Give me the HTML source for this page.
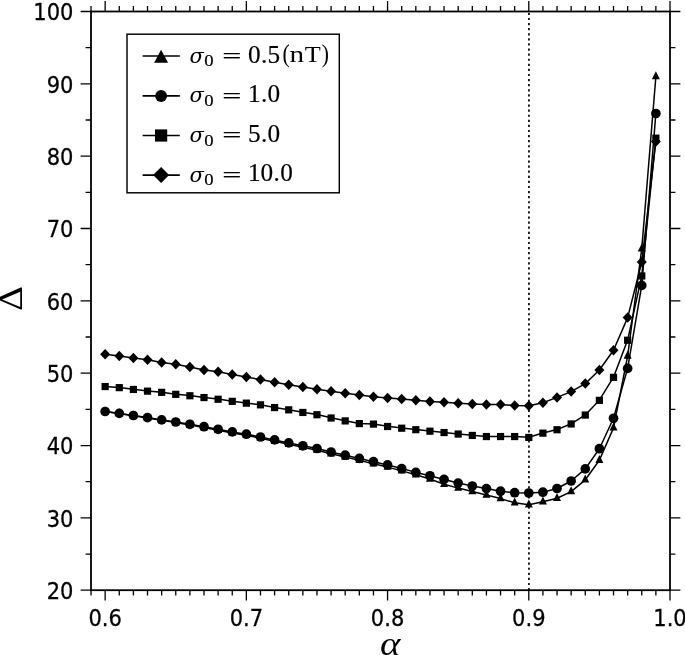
<!DOCTYPE html>
<html lang="en">
<head>
<meta charset="utf-8">
<title>Delta versus alpha</title>
<style>
html,body{margin:0;padding:0;background:#fff;}
body{width:685px;height:655px;overflow:hidden;}
svg{display:block;}
.tick{font-family:"DejaVu Sans","Liberation Sans",sans-serif;font-size:23.5px;fill:#000;stroke:#000;stroke-width:0.3px;}
.leg{font-family:"Liberation Serif","DejaVu Serif",serif;font-size:24px;fill:#000;stroke:#000;stroke-width:0.18px;}
.it{font-style:italic;}
.sig{font-family:"DejaVu Serif","Liberation Serif",serif;font-style:italic;font-size:21px;fill:#000;}
</style>
</head>
<body>
<svg width="685" height="655" viewBox="0 0 685 655">
<rect x="0" y="0" width="685" height="655" fill="#fff"/>
<line x1="528.94" y1="590.2" x2="528.94" y2="11.5" stroke="#111" stroke-width="1.8" stroke-dasharray="2.2 2.89"/>
<g>
<polyline fill="none" stroke="#000" stroke-width="1.5" stroke-linejoin="round" points="105.15,411.5 119.27,413.51 133.39,415.72 147.51,417.93 161.64,420.34 175.76,422.55 189.88,424.96 204,427.47 218.12,430.18 232.24,432.89 246.36,435.3 260.48,438.21 274.61,441.22 288.73,444.33 302.85,447.34 316.97,450.15 331.09,453.76 345.21,457.07 359.33,460.38 373.45,463.79 387.58,467.1 401.7,470.9 415.82,474.8 429.94,479 444.06,484.2 458.18,488.1 472.3,491.6 486.42,495.1 500.55,498.6 514.67,502.8 528.79,504.7 542.91,501.8 557.03,498.3 571.15,491.6 585.27,479.8 599.39,460.3 613.51,427.9 627.64,356 641.76,248.8 655.88,76.5"/>
<path d="M105.15 406.2L101.15 414.2L109.15 414.2Z"/>
<path d="M119.27 408.21L115.27 416.21L123.27 416.21Z"/>
<path d="M133.39 410.42L129.39 418.42L137.39 418.42Z"/>
<path d="M147.51 412.63L143.51 420.63L151.51 420.63Z"/>
<path d="M161.64 415.04L157.64 423.04L165.64 423.04Z"/>
<path d="M175.76 417.25L171.76 425.25L179.76 425.25Z"/>
<path d="M189.88 419.66L185.88 427.66L193.88 427.66Z"/>
<path d="M204 422.17L200 430.17L208 430.17Z"/>
<path d="M218.12 424.88L214.12 432.88L222.12 432.88Z"/>
<path d="M232.24 427.59L228.24 435.59L236.24 435.59Z"/>
<path d="M246.36 430L242.36 438L250.36 438Z"/>
<path d="M260.48 432.91L256.48 440.91L264.48 440.91Z"/>
<path d="M274.61 435.92L270.61 443.92L278.61 443.92Z"/>
<path d="M288.73 439.03L284.73 447.03L292.73 447.03Z"/>
<path d="M302.85 442.04L298.85 450.04L306.85 450.04Z"/>
<path d="M316.97 444.85L312.97 452.85L320.97 452.85Z"/>
<path d="M331.09 448.46L327.09 456.46L335.09 456.46Z"/>
<path d="M345.21 451.77L341.21 459.77L349.21 459.77Z"/>
<path d="M359.33 455.08L355.33 463.08L363.33 463.08Z"/>
<path d="M373.45 458.49L369.45 466.49L377.45 466.49Z"/>
<path d="M387.58 461.8L383.58 469.8L391.58 469.8Z"/>
<path d="M401.7 465.6L397.7 473.6L405.7 473.6Z"/>
<path d="M415.82 469.5L411.82 477.5L419.82 477.5Z"/>
<path d="M429.94 473.7L425.94 481.7L433.94 481.7Z"/>
<path d="M444.06 478.9L440.06 486.9L448.06 486.9Z"/>
<path d="M458.18 482.8L454.18 490.8L462.18 490.8Z"/>
<path d="M472.3 486.3L468.3 494.3L476.3 494.3Z"/>
<path d="M486.42 489.8L482.42 497.8L490.42 497.8Z"/>
<path d="M500.55 493.3L496.55 501.3L504.55 501.3Z"/>
<path d="M514.67 497.5L510.67 505.5L518.67 505.5Z"/>
<path d="M528.79 499.4L524.79 507.4L532.79 507.4Z"/>
<path d="M542.91 496.5L538.91 504.5L546.91 504.5Z"/>
<path d="M557.03 493L553.03 501L561.03 501Z"/>
<path d="M571.15 486.3L567.15 494.3L575.15 494.3Z"/>
<path d="M585.27 474.5L581.27 482.5L589.27 482.5Z"/>
<path d="M599.39 455L595.39 463L603.39 463Z"/>
<path d="M613.51 422.6L609.51 430.6L617.51 430.6Z"/>
<path d="M627.64 350.7L623.64 358.7L631.64 358.7Z"/>
<path d="M641.76 243.5L637.76 251.5L645.76 251.5Z"/>
<path d="M655.88 71.2L651.88 79.2L659.88 79.2Z"/>
</g>
<g>
<polyline fill="none" stroke="#000" stroke-width="1.5" stroke-linejoin="round" points="105.15,411.5 119.27,413.4 133.39,415.5 147.51,417.6 161.64,419.9 175.76,422 189.88,424.3 204,426.7 218.12,429.3 232.24,431.9 246.36,434.2 260.48,437 274.61,439.9 288.73,442.9 302.85,445.8 316.97,448.5 331.09,452 345.21,455.2 359.33,458.4 373.45,461.7 387.58,464.9 401.7,468.6 415.82,472.4 429.94,475.8 444.06,479.4 458.18,483.1 472.3,486 486.42,488.6 500.55,491.2 514.67,492.7 528.79,493 542.91,492.2 557.03,488.5 571.15,481 585.27,468.9 599.39,448.7 613.51,418.3 627.64,368.4 641.76,285.4 655.88,113.5"/>
<circle cx="105.15" cy="411.5" r="4.85"/>
<circle cx="119.27" cy="413.4" r="4.85"/>
<circle cx="133.39" cy="415.5" r="4.85"/>
<circle cx="147.51" cy="417.6" r="4.85"/>
<circle cx="161.64" cy="419.9" r="4.85"/>
<circle cx="175.76" cy="422" r="4.85"/>
<circle cx="189.88" cy="424.3" r="4.85"/>
<circle cx="204" cy="426.7" r="4.85"/>
<circle cx="218.12" cy="429.3" r="4.85"/>
<circle cx="232.24" cy="431.9" r="4.85"/>
<circle cx="246.36" cy="434.2" r="4.85"/>
<circle cx="260.48" cy="437" r="4.85"/>
<circle cx="274.61" cy="439.9" r="4.85"/>
<circle cx="288.73" cy="442.9" r="4.85"/>
<circle cx="302.85" cy="445.8" r="4.85"/>
<circle cx="316.97" cy="448.5" r="4.85"/>
<circle cx="331.09" cy="452" r="4.85"/>
<circle cx="345.21" cy="455.2" r="4.85"/>
<circle cx="359.33" cy="458.4" r="4.85"/>
<circle cx="373.45" cy="461.7" r="4.85"/>
<circle cx="387.58" cy="464.9" r="4.85"/>
<circle cx="401.7" cy="468.6" r="4.85"/>
<circle cx="415.82" cy="472.4" r="4.85"/>
<circle cx="429.94" cy="475.8" r="4.85"/>
<circle cx="444.06" cy="479.4" r="4.85"/>
<circle cx="458.18" cy="483.1" r="4.85"/>
<circle cx="472.3" cy="486" r="4.85"/>
<circle cx="486.42" cy="488.6" r="4.85"/>
<circle cx="500.55" cy="491.2" r="4.85"/>
<circle cx="514.67" cy="492.7" r="4.85"/>
<circle cx="528.79" cy="493" r="4.85"/>
<circle cx="542.91" cy="492.2" r="4.85"/>
<circle cx="557.03" cy="488.5" r="4.85"/>
<circle cx="571.15" cy="481" r="4.85"/>
<circle cx="585.27" cy="468.9" r="4.85"/>
<circle cx="599.39" cy="448.7" r="4.85"/>
<circle cx="613.51" cy="418.3" r="4.85"/>
<circle cx="627.64" cy="368.4" r="4.85"/>
<circle cx="641.76" cy="285.4" r="4.85"/>
<circle cx="655.88" cy="113.5" r="4.85"/>
</g>
<g>
<polyline fill="none" stroke="#000" stroke-width="1.5" stroke-linejoin="round" points="105.15,386.4 119.27,387.5 133.39,389.3 147.51,391 161.64,392.2 175.76,394.2 189.88,395.6 204,397.4 218.12,399.1 232.24,401.2 246.36,403 260.48,404.7 274.61,407.4 288.73,409.7 302.85,412.3 316.97,414.6 331.09,417.85 345.21,420.75 359.33,423.45 373.45,423.95 387.58,426.35 401.7,428.05 415.82,429.55 429.94,431.05 444.06,432.4 458.18,433.9 472.3,435.3 486.42,436.4 500.55,436.4 514.67,436.4 528.79,437.3 542.91,433 557.03,429.6 571.15,423.8 585.27,414.9 599.39,400.2 613.51,377.2 627.64,340.1 641.76,275.8 655.88,138"/>
<rect x="101.55" y="382.95" width="7.2" height="7.2"/>
<rect x="115.67" y="384.05" width="7.2" height="7.2"/>
<rect x="129.79" y="385.85" width="7.2" height="7.2"/>
<rect x="143.91" y="387.55" width="7.2" height="7.2"/>
<rect x="158.04" y="388.75" width="7.2" height="7.2"/>
<rect x="172.16" y="390.75" width="7.2" height="7.2"/>
<rect x="186.28" y="392.15" width="7.2" height="7.2"/>
<rect x="200.4" y="393.95" width="7.2" height="7.2"/>
<rect x="214.52" y="395.65" width="7.2" height="7.2"/>
<rect x="228.64" y="397.75" width="7.2" height="7.2"/>
<rect x="242.76" y="399.55" width="7.2" height="7.2"/>
<rect x="256.88" y="401.25" width="7.2" height="7.2"/>
<rect x="271" y="403.95" width="7.2" height="7.2"/>
<rect x="285.13" y="406.25" width="7.2" height="7.2"/>
<rect x="299.25" y="408.85" width="7.2" height="7.2"/>
<rect x="313.37" y="411.15" width="7.2" height="7.2"/>
<rect x="327.49" y="414.4" width="7.2" height="7.2"/>
<rect x="341.61" y="417.3" width="7.2" height="7.2"/>
<rect x="355.73" y="420" width="7.2" height="7.2"/>
<rect x="369.85" y="420.5" width="7.2" height="7.2"/>
<rect x="383.98" y="422.9" width="7.2" height="7.2"/>
<rect x="398.1" y="424.6" width="7.2" height="7.2"/>
<rect x="412.22" y="426.1" width="7.2" height="7.2"/>
<rect x="426.34" y="427.6" width="7.2" height="7.2"/>
<rect x="440.46" y="428.95" width="7.2" height="7.2"/>
<rect x="454.58" y="430.45" width="7.2" height="7.2"/>
<rect x="468.7" y="431.85" width="7.2" height="7.2"/>
<rect x="482.82" y="432.95" width="7.2" height="7.2"/>
<rect x="496.95" y="432.95" width="7.2" height="7.2"/>
<rect x="511.07" y="432.95" width="7.2" height="7.2"/>
<rect x="525.19" y="433.85" width="7.2" height="7.2"/>
<rect x="539.31" y="429.55" width="7.2" height="7.2"/>
<rect x="553.43" y="426.15" width="7.2" height="7.2"/>
<rect x="567.55" y="420.35" width="7.2" height="7.2"/>
<rect x="581.67" y="411.45" width="7.2" height="7.2"/>
<rect x="595.79" y="396.75" width="7.2" height="7.2"/>
<rect x="609.91" y="373.75" width="7.2" height="7.2"/>
<rect x="624.04" y="336.65" width="7.2" height="7.2"/>
<rect x="638.16" y="272.35" width="7.2" height="7.2"/>
<rect x="652.28" y="134.55" width="7.2" height="7.2"/>
</g>
<g>
<polyline fill="none" stroke="#000" stroke-width="1.5" stroke-linejoin="round" points="105.15,354.2 119.27,356 133.39,358 147.51,359.8 161.64,362.4 175.76,364.2 189.88,367.1 204,369.9 218.12,371.8 232.24,374.4 246.36,377 260.48,379.6 274.61,382.3 288.73,384.7 302.85,386.9 316.97,389.2 331.09,391.2 345.21,393.3 359.33,395 373.45,396.8 387.58,398 401.7,399.1 415.82,400.3 429.94,401.5 444.06,402.3 458.18,403.2 472.3,404.1 486.42,404.5 500.55,404.6 514.67,405.4 528.79,405.8 542.91,402.7 557.03,397.4 571.15,391.6 585.27,383.6 599.39,370 613.51,350.3 627.64,317.6 641.76,262 655.88,141.5"/>
<path d="M105.15 348.95L110.15 354.2L105.15 359.45L100.15 354.2Z"/>
<path d="M119.27 350.75L124.27 356L119.27 361.25L114.27 356Z"/>
<path d="M133.39 352.75L138.39 358L133.39 363.25L128.39 358Z"/>
<path d="M147.51 354.55L152.51 359.8L147.51 365.05L142.51 359.8Z"/>
<path d="M161.64 357.15L166.64 362.4L161.64 367.65L156.64 362.4Z"/>
<path d="M175.76 358.95L180.76 364.2L175.76 369.45L170.76 364.2Z"/>
<path d="M189.88 361.85L194.88 367.1L189.88 372.35L184.88 367.1Z"/>
<path d="M204 364.65L209 369.9L204 375.15L199 369.9Z"/>
<path d="M218.12 366.55L223.12 371.8L218.12 377.05L213.12 371.8Z"/>
<path d="M232.24 369.15L237.24 374.4L232.24 379.65L227.24 374.4Z"/>
<path d="M246.36 371.75L251.36 377L246.36 382.25L241.36 377Z"/>
<path d="M260.48 374.35L265.48 379.6L260.48 384.85L255.48 379.6Z"/>
<path d="M274.61 377.05L279.61 382.3L274.61 387.55L269.61 382.3Z"/>
<path d="M288.73 379.45L293.73 384.7L288.73 389.95L283.73 384.7Z"/>
<path d="M302.85 381.65L307.85 386.9L302.85 392.15L297.85 386.9Z"/>
<path d="M316.97 383.95L321.97 389.2L316.97 394.45L311.97 389.2Z"/>
<path d="M331.09 385.95L336.09 391.2L331.09 396.45L326.09 391.2Z"/>
<path d="M345.21 388.05L350.21 393.3L345.21 398.55L340.21 393.3Z"/>
<path d="M359.33 389.75L364.33 395L359.33 400.25L354.33 395Z"/>
<path d="M373.45 391.55L378.45 396.8L373.45 402.05L368.45 396.8Z"/>
<path d="M387.58 392.75L392.58 398L387.58 403.25L382.58 398Z"/>
<path d="M401.7 393.85L406.7 399.1L401.7 404.35L396.7 399.1Z"/>
<path d="M415.82 395.05L420.82 400.3L415.82 405.55L410.82 400.3Z"/>
<path d="M429.94 396.25L434.94 401.5L429.94 406.75L424.94 401.5Z"/>
<path d="M444.06 397.05L449.06 402.3L444.06 407.55L439.06 402.3Z"/>
<path d="M458.18 397.95L463.18 403.2L458.18 408.45L453.18 403.2Z"/>
<path d="M472.3 398.85L477.3 404.1L472.3 409.35L467.3 404.1Z"/>
<path d="M486.42 399.25L491.42 404.5L486.42 409.75L481.42 404.5Z"/>
<path d="M500.55 399.35L505.55 404.6L500.55 409.85L495.55 404.6Z"/>
<path d="M514.67 400.15L519.67 405.4L514.67 410.65L509.67 405.4Z"/>
<path d="M528.79 400.55L533.79 405.8L528.79 411.05L523.79 405.8Z"/>
<path d="M542.91 397.45L547.91 402.7L542.91 407.95L537.91 402.7Z"/>
<path d="M557.03 392.15L562.03 397.4L557.03 402.65L552.03 397.4Z"/>
<path d="M571.15 386.35L576.15 391.6L571.15 396.85L566.15 391.6Z"/>
<path d="M585.27 378.35L590.27 383.6L585.27 388.85L580.27 383.6Z"/>
<path d="M599.39 364.75L604.39 370L599.39 375.25L594.39 370Z"/>
<path d="M613.51 345.05L618.51 350.3L613.51 355.55L608.51 350.3Z"/>
<path d="M627.64 312.35L632.64 317.6L627.64 322.85L622.64 317.6Z"/>
<path d="M641.76 256.75L646.76 262L641.76 267.25L636.76 262Z"/>
<path d="M655.88 136.25L660.88 141.5L655.88 146.75L650.88 141.5Z"/>
</g>
<rect x="91" y="11.5" width="579" height="578.7" fill="none" stroke="#000" stroke-width="1.8"/>
<path d="M91.03 590.2v5.4M91.03 11.5v-5.4M105.15 590.2v10.4M105.15 11.5v-10.4M119.27 590.2v5.4M119.27 11.5v-5.4M133.39 590.2v5.4M133.39 11.5v-5.4M147.51 590.2v5.4M147.51 11.5v-5.4M161.64 590.2v5.4M161.64 11.5v-5.4M175.76 590.2v5.4M175.76 11.5v-5.4M189.88 590.2v5.4M189.88 11.5v-5.4M204 590.2v5.4M204 11.5v-5.4M218.12 590.2v5.4M218.12 11.5v-5.4M232.24 590.2v5.4M232.24 11.5v-5.4M246.36 590.2v10.4M246.36 11.5v-10.4M260.48 590.2v5.4M260.48 11.5v-5.4M274.61 590.2v5.4M274.61 11.5v-5.4M288.73 590.2v5.4M288.73 11.5v-5.4M302.85 590.2v5.4M302.85 11.5v-5.4M316.97 590.2v5.4M316.97 11.5v-5.4M331.09 590.2v5.4M331.09 11.5v-5.4M345.21 590.2v5.4M345.21 11.5v-5.4M359.33 590.2v5.4M359.33 11.5v-5.4M373.45 590.2v5.4M373.45 11.5v-5.4M387.57 590.2v10.4M387.57 11.5v-10.4M401.7 590.2v5.4M401.7 11.5v-5.4M415.82 590.2v5.4M415.82 11.5v-5.4M429.94 590.2v5.4M429.94 11.5v-5.4M444.06 590.2v5.4M444.06 11.5v-5.4M458.18 590.2v5.4M458.18 11.5v-5.4M472.3 590.2v5.4M472.3 11.5v-5.4M486.42 590.2v5.4M486.42 11.5v-5.4M500.54 590.2v5.4M500.54 11.5v-5.4M514.67 590.2v5.4M514.67 11.5v-5.4M528.79 590.2v10.4M528.79 11.5v-10.4M542.91 590.2v5.4M542.91 11.5v-5.4M557.03 590.2v5.4M557.03 11.5v-5.4M571.15 590.2v5.4M571.15 11.5v-5.4M585.27 590.2v5.4M585.27 11.5v-5.4M599.39 590.2v5.4M599.39 11.5v-5.4M613.51 590.2v5.4M613.51 11.5v-5.4M627.64 590.2v5.4M627.64 11.5v-5.4M641.76 590.2v5.4M641.76 11.5v-5.4M655.88 590.2v5.4M655.88 11.5v-5.4M670 590.2v10.4M670 11.5v-10.4M91 590.2h-10.4M670 590.2h10.4M91 554.03h-5.4M670 554.03h5.4M91 517.86h-10.4M670 517.86h10.4M91 481.69h-5.4M670 481.69h5.4M91 445.53h-10.4M670 445.53h10.4M91 409.36h-5.4M670 409.36h5.4M91 373.19h-10.4M670 373.19h10.4M91 337.02h-5.4M670 337.02h5.4M91 300.85h-10.4M670 300.85h10.4M91 264.68h-5.4M670 264.68h5.4M91 228.51h-10.4M670 228.51h10.4M91 192.34h-5.4M670 192.34h5.4M91 156.18h-10.4M670 156.18h10.4M91 120.01h-5.4M670 120.01h5.4M91 83.84h-10.4M670 83.84h10.4M91 47.67h-5.4M670 47.67h5.4M91 11.5h-10.4M670 11.5h10.4" fill="none" stroke="#000" stroke-width="1.3"/>
<text class="tick" transform="translate(105.15 625.5) scale(0.895 1)" text-anchor="middle">0.6</text>
<text class="tick" transform="translate(246.36 625.5) scale(0.895 1)" text-anchor="middle">0.7</text>
<text class="tick" transform="translate(387.58 625.5) scale(0.895 1)" text-anchor="middle">0.8</text>
<text class="tick" transform="translate(528.79 625.5) scale(0.895 1)" text-anchor="middle">0.9</text>
<text class="tick" transform="translate(670 625.5) scale(0.895 1)" text-anchor="middle">1.0</text>
<text class="tick" transform="translate(73.5 598.9) scale(0.895 1)" text-anchor="end">20</text>
<text class="tick" transform="translate(73.5 526.56) scale(0.895 1)" text-anchor="end">30</text>
<text class="tick" transform="translate(73.5 454.23) scale(0.895 1)" text-anchor="end">40</text>
<text class="tick" transform="translate(73.5 381.89) scale(0.895 1)" text-anchor="end">50</text>
<text class="tick" transform="translate(73.5 309.55) scale(0.895 1)" text-anchor="end">60</text>
<text class="tick" transform="translate(73.5 237.21) scale(0.895 1)" text-anchor="end">70</text>
<text class="tick" transform="translate(73.5 164.88) scale(0.895 1)" text-anchor="end">80</text>
<text class="tick" transform="translate(73.5 92.54) scale(0.895 1)" text-anchor="end">90</text>
<text class="tick" transform="translate(73.5 20.2) scale(0.895 1)" text-anchor="end">100</text>
<text class="leg it" style="font-size:34px;stroke-width:0" transform="translate(379.9 654.5) scale(1.14 1)">α</text>
<text class="leg" style="font-size:33px;stroke-width:0" transform="translate(21.7 310.9) rotate(-90) scale(1.18 1)">Δ</text>
<rect x="127" y="34.2" width="212.3" height="158.6" fill="#fff" stroke="#000" stroke-width="1.45"/>
<line x1="142.6" y1="56" x2="179.8" y2="56" stroke="#000" stroke-width="1.7"/>
<path d="M161.1 49.65L154.1 62.8L168.1 62.8Z"/>
<text class="sig" x="189.6" y="62.6">σ</text><text class="leg" style="font-size:17px" transform="translate(204.3 66.1) scale(1.1 1)">0</text><text class="leg" style="font-size:20px" transform="translate(222.2 63.05) scale(1.7 1)">=</text><text class="leg" style="font-size:25px" transform="translate(248 62.5) scale(1.01 1)" x="0 12.82 19.41">0.5</text><text class="leg" style="font-size:23.5px;stroke-width:0" y="62"><tspan x="282.4" dy="0" style="font-size:26px" textLength="7.2" lengthAdjust="spacingAndGlyphs">(</tspan><tspan x="289.4" dy="0" textLength="14.6" lengthAdjust="spacingAndGlyphs">n</tspan><tspan x="304.8" textLength="16" lengthAdjust="spacingAndGlyphs">T</tspan><tspan x="321.8" dy="0" style="font-size:26px" textLength="7.2" lengthAdjust="spacingAndGlyphs">)</tspan></text>
<line x1="142.6" y1="95.9" x2="179.8" y2="95.9" stroke="#000" stroke-width="1.7"/>
<circle cx="161.1" cy="96" r="5.9"/>
<text class="sig" x="189.6" y="102.4">σ</text><text class="leg" style="font-size:17px" transform="translate(204.3 105.9) scale(1.1 1)">0</text><text class="leg" style="font-size:20px" transform="translate(222.2 102.85) scale(1.7 1)">=</text><text class="leg" style="font-size:25px" transform="translate(248 102.3) scale(1.01 1)" x="0 12.82 19.41">1.0</text>
<line x1="142.6" y1="135.5" x2="179.8" y2="135.5" stroke="#000" stroke-width="1.7"/>
<rect x="155" y="129.4" width="12.2" height="12.2"/>
<text class="sig" x="189.6" y="142">σ</text><text class="leg" style="font-size:17px" transform="translate(204.3 145.5) scale(1.1 1)">0</text><text class="leg" style="font-size:20px" transform="translate(222.2 142.45) scale(1.7 1)">=</text><text class="leg" style="font-size:25px" transform="translate(248 141.9) scale(1.01 1)" x="0 12.82 19.41">5.0</text>
<line x1="142.6" y1="175.1" x2="179.8" y2="175.1" stroke="#000" stroke-width="1.7"/>
<path d="M161.1 167.1L169.1 175.1L161.1 183.1L153.1 175.1Z"/>
<text class="sig" x="189.6" y="181.5">σ</text><text class="leg" style="font-size:17px" transform="translate(204.3 185) scale(1.1 1)">0</text><text class="leg" style="font-size:20px" transform="translate(222.2 181.95) scale(1.7 1)">=</text><text class="leg" style="font-size:25px" transform="translate(248 181.4) scale(1.01 1)" x="0 12.48 25.3 31.88">10.0</text>
</svg>
</body>
</html>
